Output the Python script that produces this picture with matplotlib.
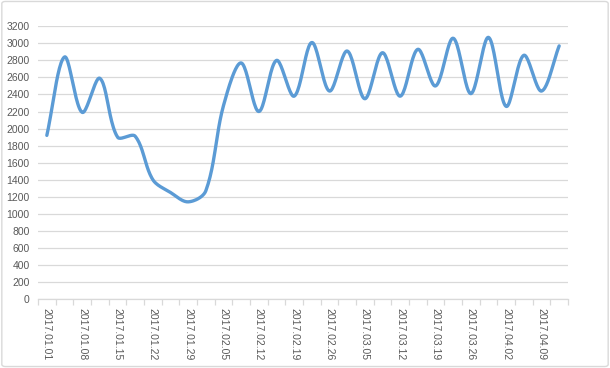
import numpy as np
import matplotlib
matplotlib.use('Agg')
import matplotlib.pyplot as plt
from matplotlib.patches import FancyBboxPatch

## données (30 points, une étiquette sur deux)
valeurs = [1920, 2840, 2190, 2590, 1900, 1910, 1400, 1250, 1140, 1270,
           2270, 2770, 2200, 2800, 2380, 3010, 2440, 2910, 2350, 2890,
           2380, 2930, 2500, 3060, 2410, 3070, 2260, 2860, 2440, 2970]
etiquettes = ['2017.01.01', '2017.01.08', '2017.01.15', '2017.01.22', '2017.01.29',
              '2017.02.05', '2017.02.12', '2017.02.19', '2017.02.26', '2017.03.05',
              '2017.03.12', '2017.03.19', '2017.03.26', '2017.04.02', '2017.04.09']
y_ticks = list(range(0, 3201, 200))

bleu = '#5B9BD5'
gris = '#D9D9D9'
texte = '#595959'


def lisse(xs, ys, sx=17.67, sy=0.08522, n=24):
    """courbe lissée façon Excel : Bezier, tangentes pondérées par les cordes
    (calculées en pixels : sx, sy = pixels par unité)"""
    P = np.column_stack([np.asarray(xs) * sx, np.asarray(ys) * sy]).astype(float)
    m = len(P)
    out = [P[0]]
    t = np.linspace(0, 1, n)[1:, None]

    def ctrl(i, vers):
        ## point de contrôle partant de P[i] vers P[vers]
        a = P[i - 1] if i > 0 else P[i]
        b = P[i + 1] if i + 1 < m else P[i]
        d = b - a
        l_av = np.hypot(*(P[i] - a))
        l_ap = np.hypot(*(b - P[i]))
        if l_av + l_ap == 0:
            return P[i]
        l = l_ap if vers > i else l_av
        sgn = 1 if vers > i else -1
        return P[i] + sgn * d * l / (l_av + l_ap) / 3

    for i in range(m - 1):
        p1, p2 = P[i], P[i + 1]
        c1 = ctrl(i, i + 1)
        c2 = ctrl(i + 1, i)
        seg = ((1 - t) ** 3) * p1 + 3 * ((1 - t) ** 2) * t * c1 \
            + 3 * (1 - t) * t ** 2 * c2 + t ** 3 * p2
        out.extend(seg)
    out = np.array(out)
    return out[:, 0] / sx, out[:, 1] / sy


fig = plt.figure(figsize=(6.1, 3.68), dpi=100)
ax = fig.add_axes([38 / 610, 1 - 299 / 368, 530 / 610, 272.7 / 368])

x = np.arange(len(valeurs))
xs, ys = lisse(x, valeurs)
ax.plot(xs, ys, color=bleu, linewidth=2.4, solid_capstyle='round', zorder=3)

ax.set_xlim(-0.5, len(valeurs) - 0.5)
ax.set_ylim(0, 3200)
ax.set_yticks(y_ticks)
ax.set_yticklabels([str(v) for v in y_ticks])
ax.grid(axis='y', color=gris, linewidth=0.9)
ax.set_axisbelow(True)

## graduations entre les catégories, étiquettes une sur deux
ax.set_xticks(np.arange(-0.5, len(valeurs), 1.0))
ax.set_xticklabels([])
ax.set_xticks(np.arange(0, len(valeurs), 2)[:len(etiquettes)], minor=True)
ax.set_xticklabels(etiquettes, minor=True, rotation=-90)
ax.tick_params(axis='x', which='major', length=4, color=gris, width=0.9)
ax.tick_params(axis='x', which='minor', length=0, pad=6.5,
               labelsize=7.5, labelcolor=texte)
ax.tick_params(axis='y', length=0, pad=6, labelsize=7.5, labelcolor=texte)
for lab in ax.get_xticklabels(minor=True) + ax.get_yticklabels():
    lab.set_family('Liberation Sans')

for s in ['top', 'right', 'left']:
    ax.spines[s].set_visible(False)
ax.spines['bottom'].set_color(gris)
ax.spines['bottom'].set_linewidth(0.9)

## cadre du graphique
cadre = FancyBboxPatch((0.003, 0.004), 0.994, 0.992,
                       boxstyle='round,pad=0,rounding_size=0.006',
                       transform=fig.transFigure, facecolor='none',
                       edgecolor=gris, linewidth=1.0)
fig.patches.append(cadre)

fig.savefig('out.png', dpi=100)
